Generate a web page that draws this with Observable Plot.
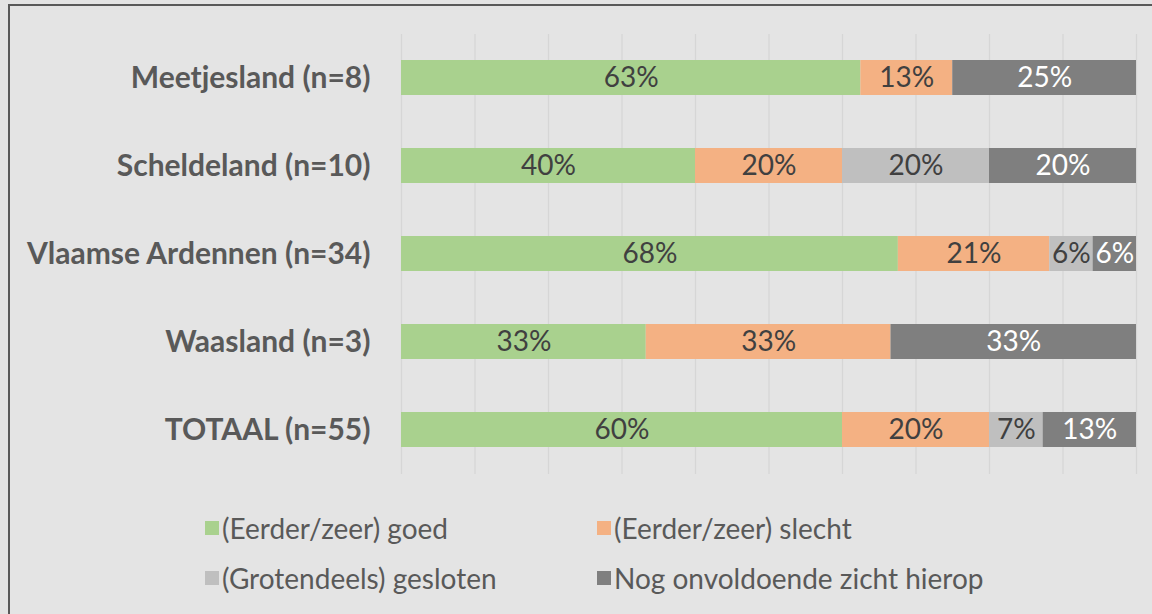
<!DOCTYPE html>
<html>
<head>
<meta charset="utf-8">
<script src="https://cdn.jsdelivr.net/npm/d3@7"></script>
<script src="https://cdn.jsdelivr.net/npm/@observablehq/plot@0.6"></script>
<style>
  html, body { margin: 0; padding: 0; background: #e4e4e4; overflow: hidden; }
  body { width: 1152px; height: 614px; position: relative; font-family: Lato, "Open Sans", sans-serif; }
  #frame { position: absolute; left: 8px; top: 4px; width: 1200px; height: 700px; border-left: 2px solid #595959; border-top: 2px solid #595959; }
  #chart { position: absolute; left: 0; top: 0; }
  .leg { position: absolute; display: flex; align-items: center; font-size: 28px; color: #595959; white-space: nowrap; }
  .leg .sw { width: 14px; height: 14px; margin-right: 3px; }
</style>
</head>
<body>
<div id="frame"></div>
<div id="chart"></div>
<div id="legend"></div>
<script>
const regions = ["Meetjesland (n=8)", "Scheldeland (n=10)", "Vlaamse Ardennen (n=34)", "Waasland (n=3)", "TOTAAL (n=55)"];
const categories = ["(Eerder/zeer) goed", "(Eerder/zeer) slecht", "(Grotendeels) gesloten", "Nog onvoldoende zicht hierop"];
const goed        = [62.5, 40, 67.6, 33.3, 60];
const slecht      = [12.5, 20, 20.6, 33.3, 20];
const gesloten    = [0,    20,  5.9,  0,    7.3];
const onvoldoende = [25,   20,  5.9, 33.4, 12.7];
const colors = ["#a9d18e", "#f4b183", "#bfbfbf", "#7f7f7f"];
const textColors = ["#404040", "#404040", "#404040", "#ffffff"];
const gridTicks = [0, 10, 20, 30, 40, 50, 60, 70, 80, 90, 100];

const series = [goed, slecht, gesloten, onvoldoende];
const data = [];
regions.forEach((r, i) => {
  categories.forEach((c, j) => {
    data.push({region: r, category: c, value: series[j][i], ci: j});
  });
});
const nonzero = data.filter(d => d.value > 0);

const plot = Plot.plot({
  width: 1152,
  height: 492,
  marginLeft: 401,
  marginRight: 16,
  marginTop: 34,
  marginBottom: 18,
  style: {background: "transparent", fontFamily: "Lato, 'Open Sans', sans-serif", color: "#595959"},
  x: {domain: [0, 100], axis: null},
  y: {domain: regions, paddingInner: 0.6, paddingOuter: 0.3, label: null},
  color: {domain: categories, range: colors},
  marks: [
    Plot.ruleX(gridTicks, {stroke: "#d6d6d6", strokeWidth: 1.3}),
    Plot.barX(nonzero, Plot.stackX({x: "value", y: "region", fill: "category", order: categories, inset: 0})),
    Plot.text(nonzero, Plot.stackX({
      x: "value", y: "region", order: categories,
      text: d => Math.round(d.value) + "%",
      fill: d => textColors[d.ci],
      fontSize: 28
    })),
    Plot.axisY({tickSize: 0, tickPadding: 31, fontSize: 30, fontWeight: "bold", label: null})
  ]
});
document.getElementById("chart").appendChild(plot);

const legendPos = [[205, 528], [597, 528], [205, 578], [597, 578]];
const legend = document.getElementById("legend");
categories.forEach((c, j) => {
  const item = document.createElement("div");
  item.className = "leg";
  item.style.left = legendPos[j][0] + "px";
  item.style.top = (legendPos[j][1] - 18) + "px";
  item.style.height = "36px";
  const sw = document.createElement("span");
  sw.className = "sw";
  sw.style.background = colors[j];
  const tx = document.createElement("span");
  tx.textContent = c;
  item.appendChild(sw);
  item.appendChild(tx);
  legend.appendChild(item);
});
</script>
</body>
</html>
